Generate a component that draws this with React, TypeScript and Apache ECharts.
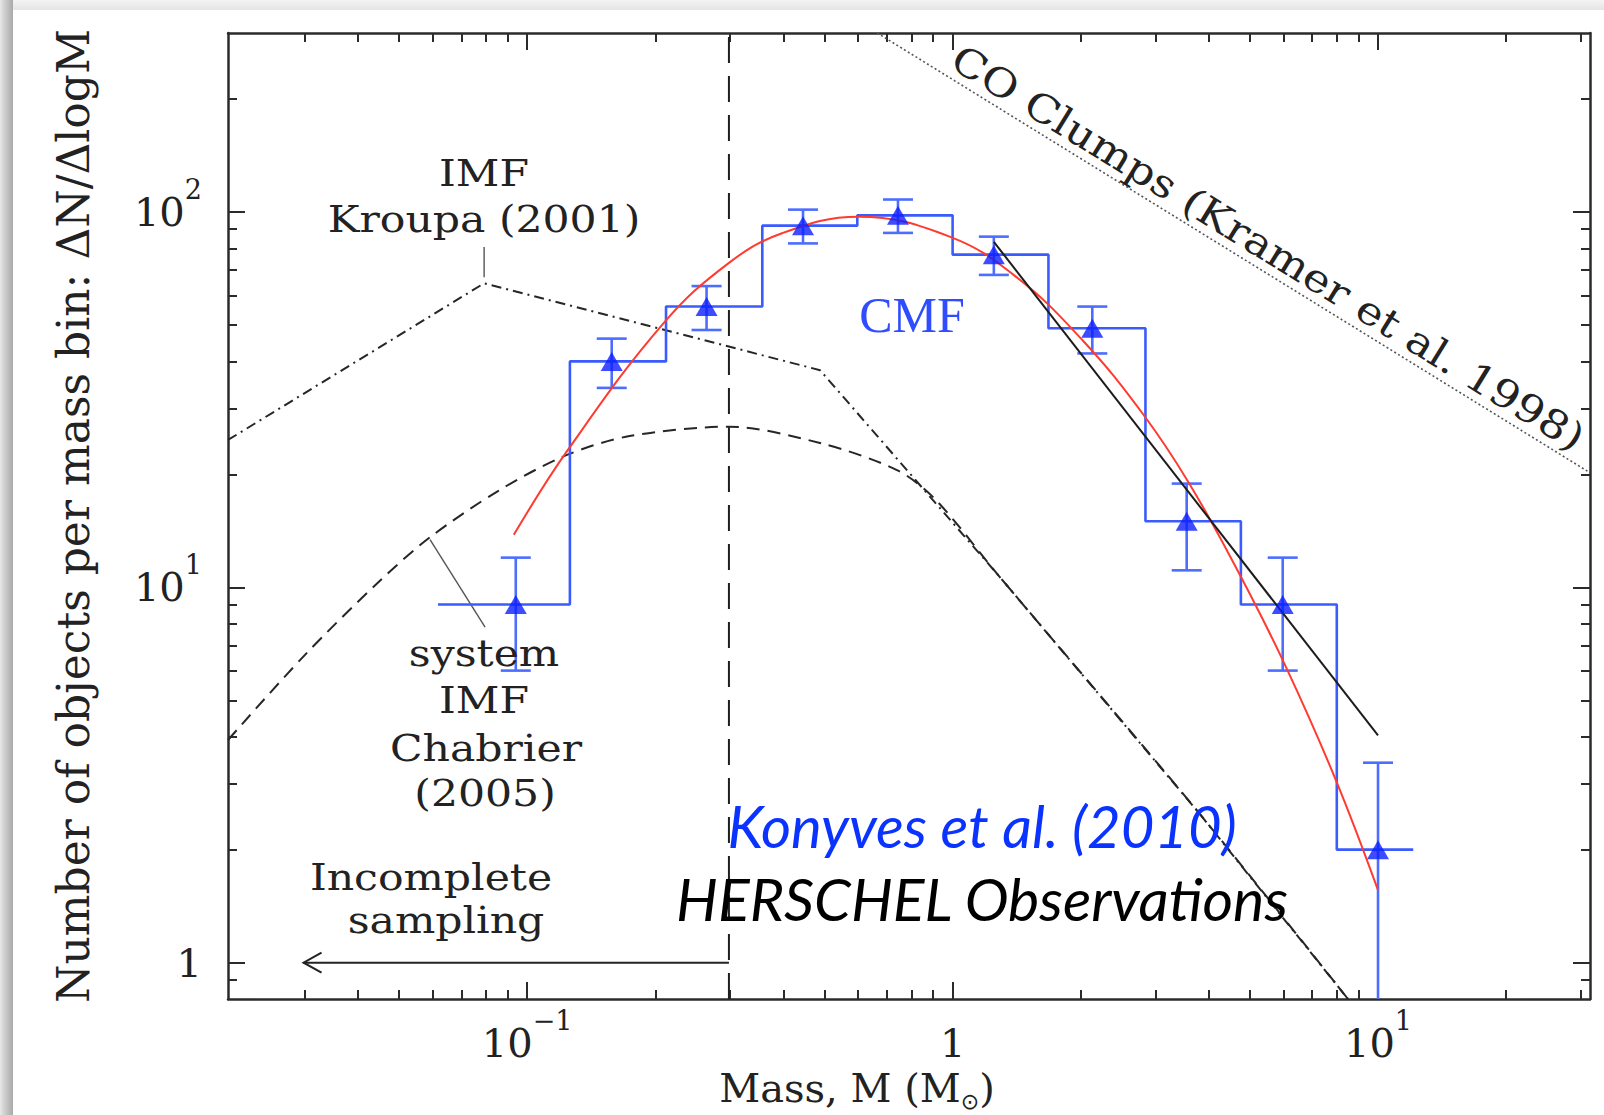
import React, { useEffect, useRef } from "react";
import * as echarts from "echarts";

// ---------- axis ranges & ticks ----------
const X_MIN = 0.0198;
const X_MAX = 31.5;
const Y_MIN = 0.8;
const Y_MAX = 300;

const xMajorTicks = [0.1, 1, 10];
const xMinorTicks = [0.03, 0.04, 0.05, 0.06, 0.07, 0.08, 0.09, 0.2, 0.3, 0.4, 0.5, 0.6, 0.7, 0.8, 0.9, 2, 3, 4, 5, 6, 7, 8, 9, 20, 30];
const yMajorTicks = [1, 10, 100];
const yMinorTicks = [0.9, 2, 3, 4, 5, 6, 7, 8, 9, 20, 30, 40, 50, 60, 70, 80, 90, 200];

// ---------- CMF histogram (Konyves et al. 2010) ----------
const binEdges = [0.0617, 0.126, 0.212, 0.357, 0.597, 1.0, 1.68, 2.84, 4.76, 8.0, 12.1];
const binCounts = [9, 40, 56, 92, 98, 77, 49, 15, 9, 2];
const cmfMass = [0.094, 0.158, 0.264, 0.445, 0.744, 1.25, 2.13, 3.55, 5.97, 10.0];
const cmfValue = [9, 40, 56, 92, 98, 77, 49, 15, 9, 2];
const cmfErrLow = [6, 34, 48.5, 82.5, 88, 68, 42, 11.1, 6, 0.59];
const cmfErrHigh = [12, 46, 63.5, 101.5, 108, 86, 56, 18.9, 12, 3.41];

// ---------- lognormal fit (red) ----------
const fitMass = [0.093, 0.1245, 0.209, 0.297, 0.397, 0.6, 0.987, 1.408, 2.018, 2.793, 3.596, 4.713, 6.07, 7.955, 10.0];
const fitValue = [13.8, 23.2, 50.5, 73.0, 87.8, 97.2, 85.9, 67.3, 45.6, 29.1, 18.95, 10.9, 6.15, 3.07, 1.56];

// ---------- power-law fit (black) ----------
const powerMass = [1.25, 10.0];
const powerValue = [83.3, 4.03];

// ---------- Kroupa (2001) IMF ----------
const kroupaMass = [0.0198, 0.0792, 0.488, 1.287, 3.8, 8.5];
const kroupaValue = [24.7, 64.6, 37.9, 10.7, 2.5, 0.8];

// ---------- Chabrier (2005) system IMF ----------
const chabrierMass = [0.0198, 0.03, 0.045, 0.0591, 0.085, 0.1224, 0.174, 0.298, 0.4905, 0.742, 0.913, 1.287, 3.8, 8.5];
const chabrierValue = [3.92, 6.6, 10.4, 13.6, 18.0, 22.4, 25.3, 26.8, 24.2, 20.5, 17.1, 10.7, 2.5, 0.8];

// ---------- CO clumps (Kramer et al. 1998) ----------
const coMass = [0.665, 31.5];
const coValue = [300, 20.2];

// ---------- completeness limit & arrow ----------
const completenessMass = 0.298;
const arrowTipMass = 0.0298;
const arrowLevel = 1;

// ---------- label leader lines ----------
const kroupaLeaderMass = [0.0792, 0.0792];
const kroupaLeaderValue = [80.7, 67.0];
const chabrierLeaderMass = [0.0591, 0.0796];
const chabrierLeaderValue = [13.4, 7.84];

const SERIF = "'DejaVu Serif', serif";
const SANS = "Lato, 'Open Sans', sans-serif";
const FRAME = "#2b2b2b";
const TXT = "#222222";
const HIST_BLUE = "#3a5cff";
const ERR_BLUE = "#4d6dff";
const TRI_BLUE = "#0d1fff";

const zip = (a: number[], b: number[]) => a.map((v, i) => [v, b[i]]);

function tickLabel(v: number) {
  const e = Math.round(Math.log10(v));
  if (e === 0) return "{b|1}";
  return `{b|10}{s|${e < 0 ? "\u2212" + -e : e}}`;
}

const labelRich = {
  b: { fontFamily: SERIF, fontSize: 40, color: TXT, lineHeight: 72 },
  s: { fontFamily: SERIF, fontSize: 27, color: TXT, lineHeight: 30, verticalAlign: "top" },
};

function xAxisDef(position: string, ticks: number[], len: number, showLine: boolean, showLabel: boolean, extra: any = {}) {
  return {
    type: "log",
    logBase: 10,
    min: X_MIN,
    max: X_MAX,
    position,
    axisLine: { show: showLine, onZero: false, lineStyle: { color: FRAME, width: 2.5 } },
    axisTick: { show: true, inside: true, length: len, customValues: ticks, lineStyle: { color: FRAME, width: 2 } },
    axisLabel: showLabel
      ? { show: true, customValues: xMajorTicks, margin: 8, formatter: tickLabel, rich: labelRich }
      : { show: false },
    splitLine: { show: false },
    minorTick: { show: false },
    minorSplitLine: { show: false },
    axisPointer: { show: false },
    ...extra,
  };
}

function yAxisDef(position: string, ticks: number[], len: number, showLine: boolean, showLabel: boolean, extra: any = {}) {
  return {
    type: "log",
    logBase: 10,
    min: Y_MIN,
    max: Y_MAX,
    position,
    axisLine: { show: showLine, onZero: false, lineStyle: { color: FRAME, width: 2.5 } },
    axisTick: { show: true, inside: true, length: len, customValues: ticks, lineStyle: { color: FRAME, width: 2 } },
    axisLabel: showLabel
      ? { show: true, customValues: yMajorTicks, margin: 26, formatter: tickLabel, rich: labelRich }
      : { show: false },
    splitLine: { show: false },
    minorTick: { show: false },
    minorSplitLine: { show: false },
    axisPointer: { show: false },
    ...extra,
  };
}

function annot(text: string, x: number, y: number, opts: any = {}) {
  return {
    type: "text",
    x,
    y,
    scaleX: opts.scaleX ?? 1.15,
    rotation: opts.rotation ?? 0,
    z: 50,
    style: {
      text,
      fontFamily: opts.fontFamily ?? SERIF,
      fontSize: opts.fontSize ?? 37,
      fontStyle: opts.fontStyle ?? "normal",
      fill: opts.fill ?? TXT,
      align: "center",
      verticalAlign: "middle",
    },
  };
}

export default function App() {
  const ref = useRef<HTMLDivElement>(null);

  useEffect(() => {
    if (!ref.current) return;
    const chart = echarts.init(ref.current, undefined, { renderer: "svg" });

    const histSteps: number[][] = [];
    binCounts.forEach((c, i) => {
      histSteps.push([binEdges[i], c], [binEdges[i + 1], c]);
    });

    const errData = cmfMass.map((m, i) => [m, cmfErrLow[i], cmfErrHigh[i]]);
    const coAngle = -Math.atan2(472.6 - 38.9, 1590.6 - 887.9);

    const option: any = {
      animation: false,
      backgroundColor: "#ffffff",
      grid: { left: 228, right: 14, top: 33, bottom: 116, containLabel: false, outerBoundsMode: "none" },
      xAxis: [
        xAxisDef("bottom", xMajorTicks, 17, true, true, {
          name: "{n|Mass, M (M}{sub|\u2299}{n|)}",
          nameLocation: "middle",
          nameGap: 62,
          nameTextStyle: {
            padding: [0, 104, 0, 0],
            rich: {
              n: { fontFamily: SERIF, fontSize: 40, color: TXT, lineHeight: 50 },
              sub: { fontFamily: "'DejaVu Sans', sans-serif", fontSize: 22, color: TXT, lineHeight: 24, verticalAlign: "bottom" },
            },
          },
        }),
        xAxisDef("bottom", xMinorTicks, 9, false, false),
        xAxisDef("top", xMajorTicks, 17, true, false),
        xAxisDef("top", xMinorTicks, 9, false, false),
      ],
      yAxis: [
        yAxisDef("left", yMajorTicks, 17, true, true, {
          name: "Number of objects per mass bin: \u0394N/\u0394logM",
          nameLocation: "middle",
          nameRotate: 90,
          nameGap: 133,
          nameTextStyle: { fontFamily: SERIF, fontSize: 44, color: TXT },
        }),
        yAxisDef("left", yMinorTicks, 9, false, false),
        yAxisDef("right", yMajorTicks, 17, true, false),
        yAxisDef("right", yMinorTicks, 9, false, false),
      ],
      series: [
        {
          name: "CO clumps (Kramer et al. 1998)",
          type: "line",
          data: zip(coMass, coValue),
          symbol: "none",
          silent: true,
          lineStyle: { color: "#555", width: 1.6, type: [2, 2.5] },
          z: 2,
        },
        {
          name: "Completeness limit",
          type: "line",
          data: [[completenessMass, Y_MIN], [completenessMass, Y_MAX]],
          symbol: "none",
          silent: true,
          lineStyle: { color: "#1e1e1e", width: 2, type: [26, 13] },
          z: 2,
        },
        {
          name: "IMF Kroupa (2001)",
          type: "line",
          data: zip(kroupaMass, kroupaValue),
          symbol: "none",
          silent: true,
          lineStyle: { color: "#262626", width: 2, type: [10, 5, 2, 5] },
          z: 2,
        },
        {
          name: "system IMF Chabrier (2005)",
          type: "line",
          data: zip(chabrierMass, chabrierValue),
          symbol: "none",
          smooth: 0.3,
          silent: true,
          lineStyle: { color: "#262626", width: 2, type: [13, 8] },
          z: 2,
        },
        {
          name: "Kroupa leader",
          type: "line",
          data: zip(kroupaLeaderMass, kroupaLeaderValue),
          symbol: "none",
          silent: true,
          lineStyle: { color: "#555", width: 1.4 },
          z: 2,
        },
        {
          name: "Chabrier leader",
          type: "line",
          data: zip(chabrierLeaderMass, chabrierLeaderValue),
          symbol: "none",
          silent: true,
          lineStyle: { color: "#555", width: 1.4 },
          z: 2,
        },
        {
          name: "Incomplete sampling",
          type: "custom",
          data: [[completenessMass, arrowLevel, arrowTipMass]],
          silent: true,
          z: 3,
          renderItem: (params: any, api: any) => {
            const p1 = api.coord([api.value(0), api.value(1)]);
            const p2 = api.coord([api.value(2), api.value(1)]);
            const st = { stroke: "#222", lineWidth: 2, fill: "none" };
            return {
              type: "group",
              children: [
                { type: "line", shape: { x1: p1[0], y1: p1[1], x2: p2[0], y2: p2[1] }, style: st },
                {
                  type: "polyline",
                  shape: { points: [[p2[0] + 18, p2[1] - 10], [p2[0], p2[1]], [p2[0] + 18, p2[1] + 10]] },
                  style: st,
                },
              ],
            };
          },
        },
        {
          name: "CMF histogram",
          type: "line",
          data: histSteps,
          symbol: "none",
          silent: true,
          lineStyle: { color: HIST_BLUE, width: 2.6 },
          z: 3,
        },
        {
          name: "CMF errors",
          type: "custom",
          data: errData,
          silent: true,
          z: 3,
          encode: { x: 0, y: [1, 2] },
          renderItem: (params: any, api: any) => {
            const m = api.value(0);
            const lo = api.value(1);
            const hi = api.value(2);
            const clipped = lo < Y_MIN;
            const pLo = api.coord([m, clipped ? Y_MIN : lo]);
            const pHi = api.coord([m, hi]);
            const st = { stroke: ERR_BLUE, lineWidth: 2.6 };
            const cap = 15;
            const children: any[] = [
              { type: "line", shape: { x1: pLo[0], y1: pLo[1], x2: pHi[0], y2: pHi[1] }, style: st },
              { type: "line", shape: { x1: pHi[0] - cap, y1: pHi[1], x2: pHi[0] + cap, y2: pHi[1] }, style: st },
            ];
            if (!clipped) {
              children.push({ type: "line", shape: { x1: pLo[0] - cap, y1: pLo[1], x2: pLo[0] + cap, y2: pLo[1] }, style: st });
            }
            return { type: "group", children };
          },
        },
        {
          name: "Lognormal fit",
          type: "line",
          data: zip(fitMass, fitValue),
          symbol: "none",
          smooth: 0.4,
          silent: true,
          lineStyle: { color: "#ff3b30", width: 2 },
          z: 4,
        },
        {
          name: "Power-law fit",
          type: "line",
          data: zip(powerMass, powerValue),
          symbol: "none",
          silent: true,
          lineStyle: { color: "#1c1c1c", width: 2 },
          z: 4,
        },
        {
          name: "CMF",
          type: "scatter",
          data: zip(cmfMass, cmfValue),
          symbol: "triangle",
          symbolSize: [22, 19],
          silent: true,
          itemStyle: { color: TRI_BLUE },
          z: 5,
        },
      ],
      graphic: [
        {
          type: "rect",
          shape: { x: 0, y: 0, width: 1604, height: 10 },
          style: {
            fill: new echarts.graphic.LinearGradient(0, 0, 0, 1, [
              { offset: 0, color: "#f4f4f4" },
              { offset: 1, color: "#e4e4e4" },
            ]),
          },
          silent: true,
          z: 0,
        },
        {
          type: "rect",
          shape: { x: 0, y: 0, width: 13, height: 1115 },
          style: {
            fill: new echarts.graphic.LinearGradient(0, 0, 1, 0, [
              { offset: 0, color: "#e8e8e8" },
              { offset: 0.35, color: "#cfcfcf" },
              { offset: 1, color: "#a9a9a9" },
            ]),
          },
          silent: true,
          z: 0,
        },
        annot("IMF", 484, 173),
        annot("Kroupa (2001)", 484, 219),
        annot("CMF", 912, 315, { fontFamily: "'Liberation Serif', serif", fontSize: 50, fill: "#2f4dff", scaleX: 1 }),
        annot("system", 484, 653),
        annot("IMF", 484, 700),
        annot("Chabrier", 486, 748),
        annot("(2005)", 485, 793),
        annot("Incomplete", 431, 877),
        annot("sampling", 446, 920),
        annot("CO Clumps (Kramer et al. 1998)", 1268, 248, { rotation: coAngle, fontSize: 39, scaleX: 1.15 }),
        annot("Konyves et al. (2010)", 982, 825, { fontFamily: SANS, fontSize: 58, fontStyle: "italic", fill: "#0a33ff", scaleX: 1 }),
        annot("HERSCHEL Observations", 982, 898, { fontFamily: SANS, fontSize: 59, fontStyle: "italic", fill: "#000000", scaleX: 1 }),
      ],
    };

    chart.setOption(option);
    return () => chart.dispose();
  }, []);

  return (
    <div
      ref={ref}
      style={{ position: "absolute", left: 0, top: 0, width: 1604, height: 1115, background: "#ffffff" }}
    />
  );
}
